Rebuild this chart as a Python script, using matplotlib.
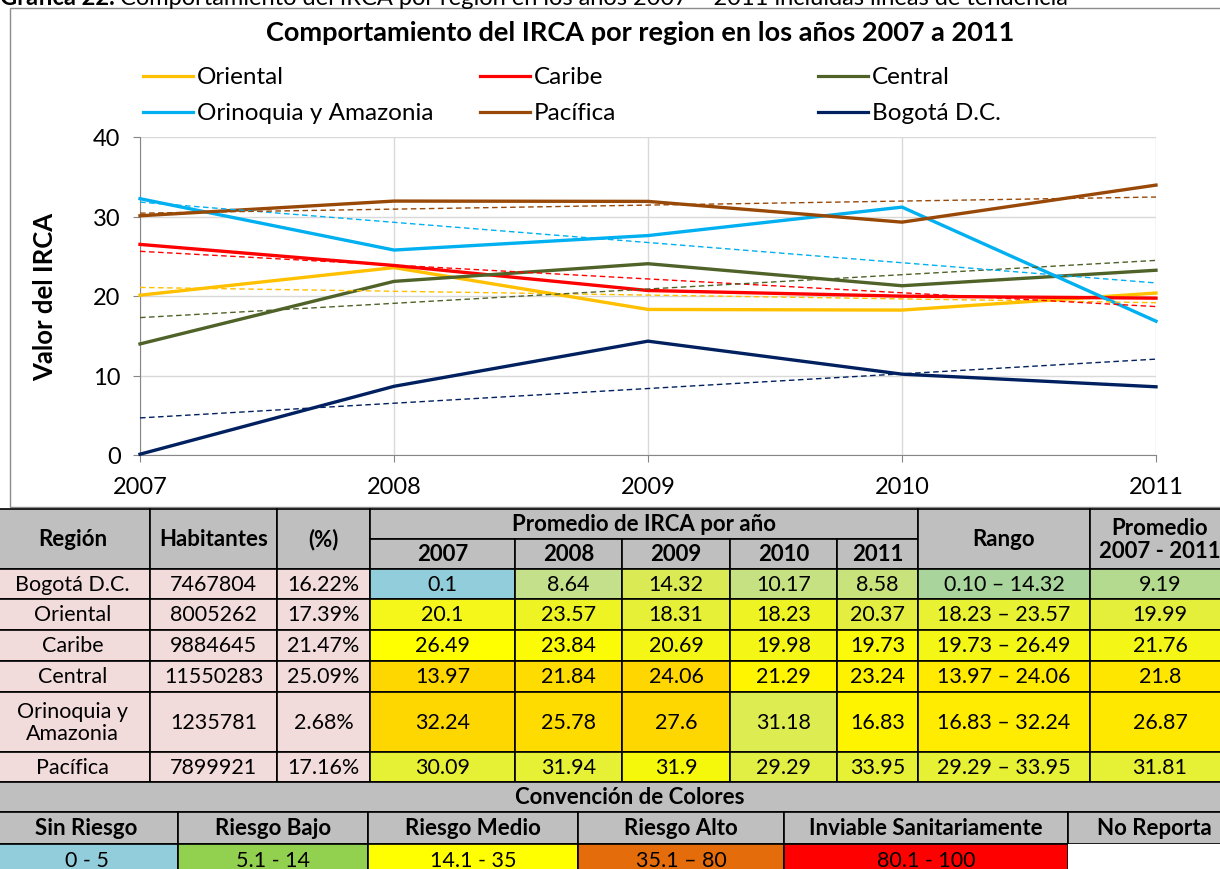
import numpy as np
import matplotlib.pyplot as plt
from matplotlib.lines import Line2D
from matplotlib.patches import Rectangle

plt.rcParams['font.family'] = ['Lato', 'DejaVu Sans']

# Chart data (IRCA by region and year)
years = [2007, 2008, 2009, 2010, 2011]
series_names = ['Oriental', 'Caribe', 'Central', 'Orinoquia y Amazonia', 'Pacífica', 'Bogotá D.C.']
oriental = [20.1, 23.57, 18.31, 18.23, 20.37]
caribe = [26.49, 23.84, 20.69, 19.98, 19.73]
central = [13.97, 21.84, 24.06, 21.29, 23.24]
orinoquia = [32.24, 25.78, 27.6, 31.18, 16.83]
pacifica = [30.09, 31.94, 31.9, 29.29, 33.95]
bogota = [0.1, 8.64, 14.32, 10.17, 8.58]
series_values = [oriental, caribe, central, orinoquia, pacifica, bogota]
series_colors = ['#FFC000', '#FF0000', '#4F6228', '#00B0F0', '#984807', '#002060']
y_ticks = [0, 10, 20, 30, 40]

# Table data
table_regions = ['Bogotá D.C.', 'Oriental', 'Caribe', 'Central', 'Orinoquia y\nAmazonia', 'Pacífica']
table_values = [bogota, oriental, caribe, central, orinoquia, pacifica]
habitantes = [7467804, 8005262, 9884645, 11550283, 1235781, 7899921]
porcentaje = [16.22, 17.39, 21.47, 25.09, 2.68, 17.16]
promedio = [9.19, 19.99, 21.76, 21.8, 26.87, 31.81]
# fill colours of the 5 year cells + rango + promedio, per row
cell_colors = [
    ['#92CDDC', '#C4E08A', '#D9EA55', '#C6E181', '#C8E27C', '#A9D59C', '#B4DA90'],
    ['#F4F719', '#EEF424', '#E6F036', '#EEF424', '#E3EE40', '#E9F232', '#E4EF3C'],
    ['#FFFF00', '#FBFB08', '#F4F716', '#F4F716', '#FAFA0A', '#F4F716', '#F4F716'],
    ['#FFD700', '#FFDC00', '#FFD600', '#FFF500', '#FFF200', '#FFEA00', '#FFE600'],
    ['#FFD700', '#FFDC00', '#FFD700', '#DDEC50', '#FFF400', '#FFEC00', '#FFE800'],
    ['#E6F034', '#E6F034', '#F6F80C', '#E1EE44', '#E6F034', '#E6F034', '#E6F034'],
]
conv_labels = ['Sin Riesgo', 'Riesgo Bajo', 'Riesgo Medio', 'Riesgo Alto', 'Inviable Sanitariamente', 'No Reporta']
conv_ranges = ['0 - 5', '5.1 - 14', '14.1 - 35', '35.1 – 80', '80.1 - 100', '']
conv_colors = ['#92CDDC', '#92D050', '#FFFF00', '#E46C0A', '#FF0000', '#FFFFFF']

W, H = 1220, 870
fig = plt.figure(figsize=(W / 100, H / 100), dpi=100)
bg = fig.add_axes([0, 0, 1, 1])
bg.set_xlim(0, W)
bg.set_ylim(H, 0)
bg.axis('off')

# caption (partly cut at the top)
renderer = fig.canvas.get_renderer()
t = bg.text(0, 5, 'Gráfica 22. ', fontsize=17, weight='bold', va='baseline')
ext = t.get_window_extent(renderer)
bg.text(ext.x1, H - 5, 'Comportamiento del IRCA por región en los años 2007 – 2011 incluidas líneas de tendencia',
        fontsize=17, va='baseline', transform=None)

# chart frame
bg.add_patch(Rectangle((10, 9), 1240, 499, fc='white', ec='#8C8C8C', lw=1))
bg.text(640, 33, 'Comportamiento del IRCA por region en los años 2007 a 2011',
        ha='center', va='center', fontsize=19.5, weight='bold')

# legend
legend_x = [143, 480, 818]
legend_y = [77, 113]
for i, (name, color) in enumerate(zip(series_names, series_colors)):
    x0 = legend_x[i % 3]
    y = legend_y[i // 3]
    bg.add_line(Line2D([x0, x0 + 50], [y, y], color=color, lw=2.3))
    bg.text(x0 + 54, y, name, va='center', fontsize=17.5)

# line chart
ax = fig.add_axes([140 / W, (H - 456) / H, 1016 / W, 318 / H])
ax.set_facecolor('white')
xs = np.array(years)
for vals, color in zip(series_values, series_colors):
    ax.plot(xs, vals, color=color, lw=2.4, clip_on=False, zorder=3)
for vals, color in zip(series_values, series_colors):
    m, b = np.polyfit(xs, vals, 1)
    ax.plot(xs, m * xs + b, color=color, lw=1, ls=(0, (4, 2.5)), clip_on=False, zorder=4)

ax.set_xlim(2007, 2011)
ax.set_ylim(0, 40)
ax.set_xticks(years)
ax.set_xticklabels([str(y) for y in years])
ax.set_yticks(y_ticks)
ax.grid(True, color='#D9D9D9', lw=1)
ax.set_axisbelow(True)
for s in ['top', 'right']:
    ax.spines[s].set_visible(False)
for s in ['left', 'bottom']:
    ax.spines[s].set_color('#868686')
ax.tick_params(axis='both', labelsize=17, color='#868686', length=5)
ax.tick_params(axis='x', pad=10)
ax.tick_params(axis='y', pad=9)
ax.set_ylabel('Valor del IRCA', fontsize=18.5, weight='bold', va='center')
ax.yaxis.set_label_coords(-0.0935, 0.5)

# table
GRAY = '#BFBFBF'
PINK = '#F2DCDB'
FS = 15.5
FSB = 16


def cell(x0, x1, y0, y1, fc, text='', bold=False, tx=None):
    bg.add_patch(Rectangle((x0, y0), x1 - x0, y1 - y0, fc=fc, ec='black', lw=1.2))
    if text:
        bg.text((x0 + x1) / 2 if tx is None else tx, (y0 + y1) / 2, text, ha='center', va='center',
                fontsize=FSB if bold else FS, weight='bold' if bold else 'normal', linespacing=1.1)


cols = [0, 150, 277, 370, 515, 622, 730, 837, 918, 1090, 1240]
rows = [570, 600, 631, 662, 693, 753, 783]
h0, h1, h2 = 510, 540, 570

cell(cols[0] - 5, cols[1], h0, h2, GRAY, 'Región', True)
cell(cols[1], cols[2], h0, h2, GRAY, 'Habitantes', True)
cell(cols[2], cols[3], h0, h2, GRAY, '(%)', True)
cell(cols[3], cols[8], h0, h1, GRAY, 'Promedio de IRCA por año', True)
for j, yr in enumerate(years):
    cell(cols[3 + j], cols[4 + j], h1, h2, GRAY, str(yr), True)
cell(cols[8], cols[9], h0, h2, GRAY, 'Rango', True)
cell(cols[9], cols[10], h0, h2, GRAY, 'Promedio\n2007 - 2011', True, tx=1160)

for i, name in enumerate(table_regions):
    y0, y1 = rows[i], rows[i + 1]
    vals = table_values[i]
    cell(cols[0] - 5, cols[1], y0, y1, PINK, name)
    cell(cols[1], cols[2], y0, y1, PINK, str(habitantes[i]))
    cell(cols[2], cols[3], y0, y1, PINK, f'{porcentaje[i]:.2f}%')
    for j, v in enumerate(vals):
        cell(cols[3 + j], cols[4 + j], y0, y1, cell_colors[i][j], f'{v:g}')
    cell(cols[8], cols[9], y0, y1, cell_colors[i][5], f'{min(vals):.2f} – {max(vals):.2f}')
    cell(cols[9], cols[10], y0, y1, cell_colors[i][6], f'{promedio[i]:g}', tx=1160)

# colour convention
c0, c1, c2, c3 = 783, 813, 845, 877
cell(-5, 1240, c0, c1, GRAY, 'Convención de Colores', True, tx=630)
conv_cols = [0, 178, 368, 578, 784, 1068, 1220]
for k, lab in enumerate(conv_labels):
    x0 = conv_cols[k] - (5 if k == 0 else 0)
    x1 = conv_cols[k + 1] + (20 if k == 5 else 0)
    cell(x0, x1, c1, c2, GRAY, lab, True)
    if conv_ranges[k]:
        cell(x0, x1, c2, c3, conv_colors[k], conv_ranges[k])
    else:
        bg.add_patch(Rectangle((x0, c2), x1 - x0, c3 - c2, fc='white', ec='none'))

fig.savefig('out.png', dpi=100)
